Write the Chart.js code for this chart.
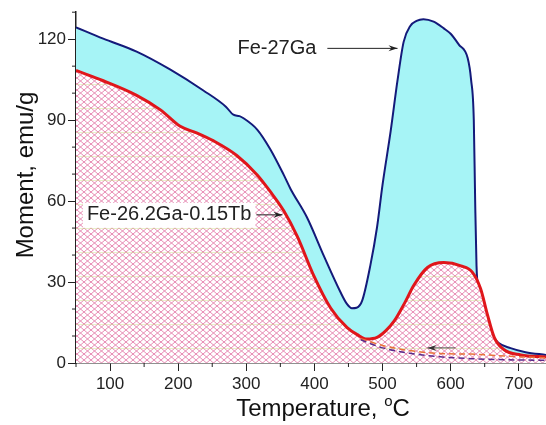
<!DOCTYPE html>
<html>
<head>
<meta charset="utf-8">
<script src="https://cdn.jsdelivr.net/npm/chart.js@4.4.1/dist/chart.umd.min.js"></script>
<style>
  body { margin: 0; background: #fff; }
  #wrap { width: 546px; height: 425px; position: relative; }
</style>
</head>
<body>
<div id="wrap"><canvas id="myChart"></canvas></div>
<script>
// Fe-27Ga, heating
const tempGa = [50, 90, 139, 188, 237, 270, 281, 290, 296, 316, 335, 355, 365, 389, 414, 438, 448, 455, 462, 470, 482, 492, 500, 512, 522, 531, 541, 550, 560, 575, 590, 600, 612, 625, 630, 634, 636, 638, 641, 648, 659, 670, 688, 710, 740];
const momentGa = [124.4, 120.2, 115.4, 108.8, 101, 95, 92, 91.5, 90.7, 86.5, 79.3, 69.7, 64.5, 54, 39.6, 26.4, 21.8, 20.3, 20.5, 23, 36, 50.4, 66, 86, 104.7, 119, 125, 126.8, 127.4, 126.5, 124, 122, 118, 113, 105, 90, 60, 36, 26, 16, 10.8, 7.5, 5.5, 4, 3];

// Fe-26.2Ga-0.15Tb, heating
const tempTb = [50, 90, 139, 174, 203, 227, 252, 286, 316, 335, 355, 375, 399, 424, 448, 463, 477, 492, 505, 517, 532, 546, 566, 590, 615, 632, 644, 654, 664, 678, 703, 740];
const momentTb = [108.4, 104.6, 99.2, 93.8, 87.7, 85.3, 82.3, 76.9, 69.7, 63.6, 56.4, 46.8, 32.4, 20.3, 13.1, 10.5, 8.9, 9.5, 12, 15.5, 22, 28.8, 35.4, 37.2, 36, 33.6, 27.5, 17.9, 9.5, 5, 3, 2.2];

// cooling branches (dashed)
const tempCool = [468, 500, 540, 585, 630, 680, 740];
const coolTb = [9, 6.5, 4.6, 3.5, 3.3, 2.6, 1.9];
const coolGa = [8.6, 5.6, 3.6, 2.3, 1.6, 1.2, 1];

const xTicks = [100, 200, 300, 400, 500, 600, 700];
const yTicks = [0, 30, 60, 90, 120];

const pts = (xs, ys) => xs.map((x, i) => ({ x: x, y: ys[i] }));

const FONT = '"Liberation Sans", Arial, sans-serif';

function makeHatch() {
    const c = document.createElement('canvas');
    c.width = 7; c.height = 24;
    const g = c.getContext('2d');
    g.fillStyle = '#fff';
    g.fillRect(0, 0, 7, 24);
    g.strokeStyle = 'rgba(228,128,172,0.9)';
    g.lineWidth = 1;
    g.beginPath();
    for (let r = 0; r < 4; r++) {
        const y0 = r * 6;
        g.moveTo(0, y0); g.lineTo(7, y0 + 6);
        g.moveTo(0, y0 + 6); g.lineTo(7, y0);
    }
    g.stroke();
    g.strokeStyle = 'rgba(205,225,140,0.45)';
    g.beginPath();
    g.moveTo(0, 12.5); g.lineTo(7, 12.5);
    g.stroke();
    return g.createPattern(c, 'repeat');
}

function arrow(g, x1, y1, x2, y2) {
    g.beginPath();
    g.moveTo(x1, y1);
    g.lineTo(x2, y2);
    g.stroke();
    const a = Math.atan2(y2 - y1, x2 - x1);
    g.beginPath();
    g.moveTo(x2, y2);
    g.lineTo(x2 - 9 * Math.cos(a) + 3 * Math.sin(a), y2 - 9 * Math.sin(a) - 3 * Math.cos(a));
    g.lineTo(x2 - 6 * Math.cos(a), y2 - 6 * Math.sin(a));
    g.lineTo(x2 - 9 * Math.cos(a) - 3 * Math.sin(a), y2 - 9 * Math.sin(a) + 3 * Math.cos(a));
    g.closePath();
    g.fill();
}

const extras = {
    id: 'extras',
    afterDatasetsDraw(chart) {
        const g = chart.ctx;
        const x = chart.scales.x, y = chart.scales.y;
        g.save();
        g.strokeStyle = '#222';
        g.fillStyle = '#222';
        g.lineWidth = 1;
        // minor ticks
        g.beginPath();
        for (let t = 50; t <= 740; t += 50) {
            if (t % 100 === 0) continue;
            const px = x.getPixelForValue(t);
            g.moveTo(px, y.bottom); g.lineTo(px, y.bottom + 4);
        }
        for (let v = 10; v <= 130; v += 10) {
            if (v % 30 === 0) continue;
            const py = y.getPixelForValue(v);
            g.moveTo(x.left, py); g.lineTo(x.left - 4, py);
        }
        g.stroke();

        g.font = '20px ' + FONT;
        g.textBaseline = 'middle';
        // Fe-27Ga label
        const ly = y.getPixelForValue(116.6);
        g.fillText('Fe-27Ga', x.getPixelForValue(287), ly);
        arrow(g, x.getPixelForValue(419), ly, x.getPixelForValue(522), ly);
        // Fe-26.2Ga-0.15Tb label in a white box
        const ty = y.getPixelForValue(54.9);
        const tx = x.getPixelForValue(66);
        const w = g.measureText('Fe-26.2Ga-0.15Tb').width;
        g.fillStyle = '#fff';
        g.fillRect(tx - 4, ty - 12, w + 8, 25);
        g.fillStyle = '#222';
        g.fillText('Fe-26.2Ga-0.15Tb', tx, ty);
        arrow(g, tx + w + 5, ty, x.getPixelForValue(353), ty);
        // cooling arrow
        const cy = y.getPixelForValue(5.6);
        g.strokeStyle = '#555';
        g.fillStyle = '#333';
        arrow(g, x.getPixelForValue(607), cy, x.getPixelForValue(566), cy);

        // axis titles
        g.fillStyle = '#111';
        g.textBaseline = 'alphabetic';
        g.font = '24px ' + FONT;
        const part1 = 'Temperature, ';
        const w1 = g.measureText(part1).width;
        g.font = '15px ' + FONT;
        const w2 = g.measureText('o').width;
        g.font = '24px ' + FONT;
        const w3 = g.measureText('C').width;
        const total = w1 + w2 + w3;
        const sx = (x.left + x.right) / 2 + 12 - total / 2;
        const by = 416;
        g.fillText(part1, sx, by);
        g.font = '15px ' + FONT;
        g.fillText('o', sx + w1, by - 10);
        g.font = '24px ' + FONT;
        g.fillText('C', sx + w1 + w2, by);

        g.translate(33, 175);
        g.rotate(-Math.PI / 2);
        g.textAlign = 'center';
        g.font = '24px ' + FONT;
        g.fillText('Moment, emu/g', 0, 0);
        g.restore();
    }
};

const ctx = document.getElementById('myChart');

new Chart(ctx, {
    type: 'line',
    data: {
        datasets: [{
            label: 'Fe-27Ga',
            data: pts(tempGa, momentGa),
            borderColor: '#141a7a',
            borderWidth: 2,
            backgroundColor: '#a6f4f6',
            fill: 1,
            order: 3
        }, {
            label: 'Fe-26.2Ga-0.15Tb',
            data: pts(tempTb, momentTb),
            borderColor: '#e0161b',
            borderWidth: 3,
            backgroundColor: makeHatch(),
            fill: 'origin',
            order: 2
        }, {
            label: 'Fe-26.2Ga-0.15Tb cooling',
            data: pts(tempCool, coolTb),
            borderColor: '#e8743a',
            borderWidth: 1.5,
            borderDash: [6, 4],
            fill: false,
            order: 1
        }, {
            label: 'Fe-27Ga cooling',
            data: pts(tempCool, coolGa),
            borderColor: '#5a2a8a',
            borderWidth: 1.5,
            borderDash: [6, 4],
            fill: false,
            order: 0
        }]
    },
    options: {
        responsive: true,
        maintainAspectRatio: false,
        animation: false,
        layout: { padding: { top: 4, right: 0, left: 0, bottom: 0 } },
        elements: {
            point: { radius: 0 },
            line: { cubicInterpolationMode: 'monotone' }
        },
        plugins: {
            legend: { display: false },
            tooltip: { enabled: false }
        },
        scales: {
            x: {
                type: 'linear',
                min: 50,
                max: 740,
                afterFit: (s) => { s.height = 62; },
                afterBuildTicks: (s) => { s.ticks = xTicks.map(v => ({ value: v })); },
                ticks: {
                    color: '#222',
                    padding: 3,
                    font: { family: FONT, size: 17 },
                    maxRotation: 0
                },
                grid: { drawOnChartArea: false, tickLength: 8, tickColor: '#222' },
                border: { color: '#222', width: 1.5 }
            },
            y: {
                min: 0,
                max: 130,
                afterFit: (s) => { s.width = 76; },
                afterBuildTicks: (s) => { s.ticks = yTicks.map(v => ({ value: v })); },
                ticks: {
                    color: '#222',
                    padding: 2,
                    font: { family: FONT, size: 17 }
                },
                grid: { drawOnChartArea: false, tickLength: 8, tickColor: '#222' },
                border: { color: '#222', width: 1.5 }
            }
        }
    },
    plugins: [extras]
});
</script>
</body>
</html>
